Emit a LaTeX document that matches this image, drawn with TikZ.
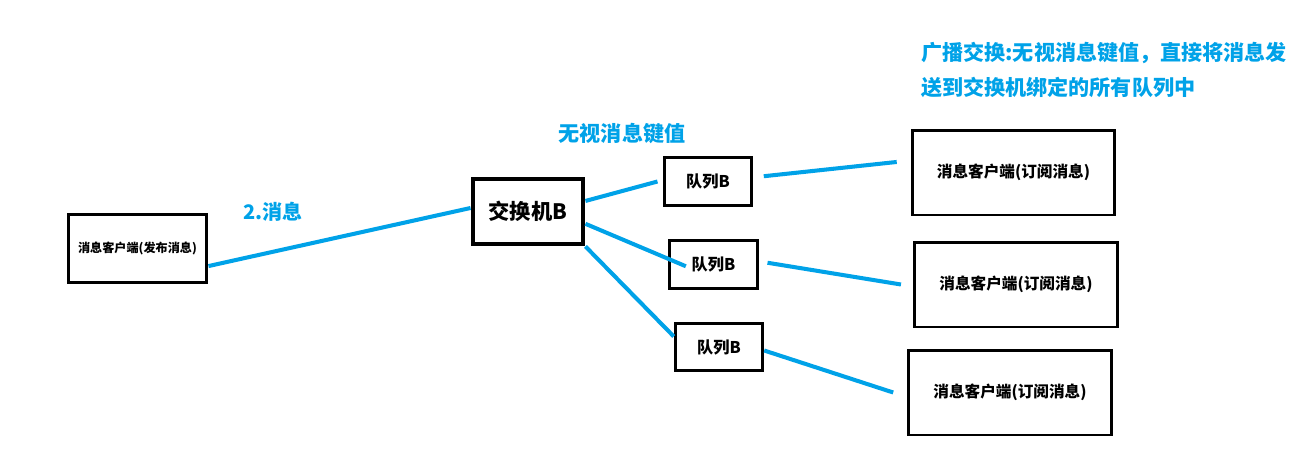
\documentclass[tikz,border=0pt]{standalone}
\usepackage{fontspec}
\setmainfont{Noto Sans CJK SC}
\usetikzlibrary{positioning}
\definecolor{linkblue}{RGB}{0,162,232}

\begin{document}
\begin{tikzpicture}[
        x=0.02cm, y=-0.02cm,
        box/.style={draw, line width=1.7pt, inner sep=0pt, align=center, font=\bfseries},
        queue/.style={box, minimum width=1.75cm, minimum height=0.95cm, font=\bfseries\fontsize{9.2}{10}\selectfont},
        client/.style={box, minimum width=4.05cm, minimum height=1.7cm, font=\bfseries\fontsize{8.9}{10}\selectfont},
        link/.style={draw=linkblue, line width=2.3pt},
        note/.style={text=linkblue, font=\bfseries\fontsize{12}{19.8}\selectfont, align=left}
    ]
        \useasboundingbox (0,0) rectangle (1313,474);

        \node[box, minimum width=2.78cm, minimum height=1.35cm, font=\bfseries\fontsize{6.9}{8}\selectfont] (pub) at (137.5,248.5) {消息客户端(发布消息)};
        \node[box, line width=2.8pt, minimum width=2.2cm, minimum height=1.3cm, font=\bfseries\fontsize{12.1}{13}\selectfont] (ex) at (528,211.5) {交换机B};

        \node[queue] (q1) at (708,181.5) {队列B};
        \node[queue] (q2) at (713.5,264.5) {队列B};
        \node[queue] (q3) at (719,347) {队列B};

        \node[client] (s1) at (1013.5,172.5) {消息客户端(订阅消息)};
        \node[client] (s2) at (1016,284.5) {消息客户端(订阅消息)};
        \node[client] (s3) at (1010,392.5) {消息客户端(订阅消息)};

        % labels
        \node[note, font=\bfseries\fontsize{11.4}{13}\selectfont] (msg) at (273,212) {2.消息};
        \node[note] (ignore) at (622,134) {无视消息键值};
        \node[note, anchor=west] (fanout) at (915,70) {广播交换:无视消息键值，直接将消息发\\送到交换机绑定的所有队列中};

        % links
        \draw[link] ([yshift=-10pt]pub.east) -- ([yshift=2pt]ex.west);
        \draw[link] ([yshift=6pt]ex.east) -- ([xshift=-3pt]q1.west);
        \draw[link] ([yshift=-7pt]ex.east) -- ([xshift=10pt,yshift=-1pt]q2.west);
        \draw[link] (ex.south east) -- ([yshift=6pt]q3.west);
        \draw[link] ([xshift=6pt,yshift=3pt]q1.east) -- ([xshift=-8pt,yshift=6pt]s1.west);
        \draw[link] ([xshift=5pt,yshift=1pt]q2.east) -- ([xshift=-7pt]s2.west);
        \draw[link] ([yshift=-2pt]q3.east) -- ([xshift=-8pt]s3.west);
    \end{tikzpicture}
\end{document}
